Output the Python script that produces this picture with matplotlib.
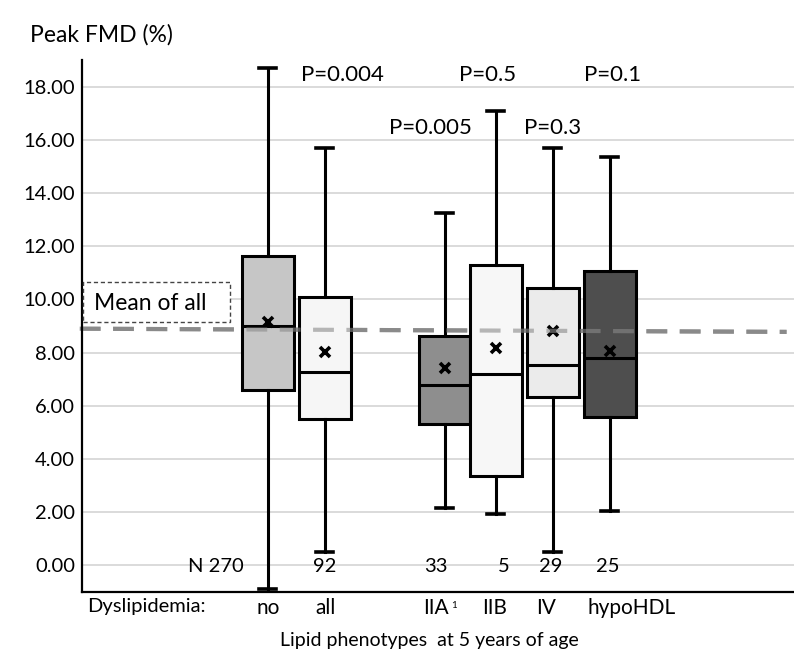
import numpy as np
import matplotlib
matplotlib.use("Agg")
from matplotlib import pyplot as plt
from matplotlib import transforms
from matplotlib.patches import Rectangle

plt.rcParams['font.family'] = ['Lato', 'DejaVu Sans']

# Box statistics (Peak FMD, %)
groups = ["no", "all", "IIA", "IIB", "IV", "hypoHDL"]
whislo = [-0.9, 0.5, 2.15, 1.95, 0.5, 2.05]
q1 = [6.58, 5.5, 5.33, 3.35, 6.35, 5.57]
med = [9.0, 7.29, 6.8, 7.2, 7.52, 7.8]
q3 = [11.65, 10.1, 8.62, 11.3, 10.42, 11.08]
whishi = [18.7, 15.7, 13.25, 17.1, 15.7, 15.35]
means = [9.17, 8.04, 7.44, 8.19, 8.83, 8.05]
n_counts = ["N 270", "92", "33", "5", "29", "25"]
tick_names = ["no", "all", "IIA", "IIB", "IV", "hypoHDL"]
p_values = ["P=0.004", "P=0.005", "P=0.5", "P=0.3", "P=0.1"]
mean_of_all = 8.85

fills = ["#c6c6c6", "#f6f6f6", "#8e8e8e", "#f7f7f7", "#ebebeb", "#4e4e4e"]
positions = [0, 1, 3.1, 4, 5, 6]

fig = plt.figure(figsize=(7.94, 6.62), dpi=100)
ax = fig.add_axes([0.1033, 0.1057, 0.8967, 0.8036])

stats = []
for i in range(len(groups)):
    stats.append(dict(label=groups[i], whislo=whislo[i], q1=q1[i], med=med[i],
                      q3=q3[i], whishi=whishi[i], mean=means[i], fliers=[]))

bp = ax.bxp(stats, positions=positions, widths=0.9, patch_artist=True,
            showmeans=True, capwidths=0.3, manage_ticks=False,
            boxprops=dict(edgecolor='black', lw=2.2),
            medianprops=dict(color='black', lw=2.2),
            whiskerprops=dict(color='black', lw=2.2),
            capprops=dict(color='black', lw=2.6),
            meanprops=dict(marker='x', markeredgecolor='black', markersize=7, mew=2.6))
for patch, c in zip(bp['boxes'], fills):
    patch.set_facecolor(c)
    patch.set_zorder(2)

ax.set_ylim(-1.0, 19.0)
ax.set_xlim(-3.26, 9.23)
ax.set_yticks(np.arange(0, 19, 2))
ax.set_yticklabels([f"{v:.2f}" for v in np.arange(0, 19, 2)], fontsize=14.5)
ax.set_xticks([])
ax.tick_params(axis='y', length=0, pad=5)
ax.grid(axis='y', color='#d4d4d4', lw=1.2)
ax.set_axisbelow(True)
for s in ['top', 'right']:
    ax.spines[s].set_visible(False)
for s in ['left', 'bottom']:
    ax.spines[s].set_linewidth(1.6)

# mean of all dashed line (under and faintly over the boxes)
line_x = [-3.3, 9.1]
line_y = [mean_of_all + 0.05, mean_of_all - 0.07]
ax.plot(line_x, line_y, ls=(0, (5, 3)), color='#8a8a8a', lw=3, zorder=1, clip_on=False)
ax.plot(line_x, line_y, ls=(0, (5, 3)), color='#8a8a8a', lw=3, zorder=2.5, alpha=0.6)

# "Mean of all" dashed box
ax.add_patch(Rectangle((-3.24, 9.14), 2.57, 1.5, fc='white', ec='#444444',
                       ls=(0, (3, 2)), lw=1, zorder=3))
ax.text(-3.05, 9.85, "Mean of all", fontsize=16.5, ha='left', va='center', zorder=4)

# P-values
p_x = [1.3, 2.85, 3.85, 5.0, 6.05]
p_y = [18.45, 16.45, 18.45, 16.45, 18.45]
for x, y, t in zip(p_x, p_y, p_values):
    ax.text(x, y, t, fontsize=16, ha='center', va='center')

# N counts
n_x = [-0.92, 1.0, 2.95, 4.13, 4.97, 5.96]
for x, t in zip(n_x, n_counts):
    ax.text(x, -0.05, t, fontsize=14.5, ha='center', va='center')

# category labels under the axis
trans = transforms.blended_transform_factory(ax.transData, ax.transAxes)
lab_x = [0.0, 1.02, 2.95, 3.98, 4.88, 6.38]
for x, t in zip(lab_x, tick_names):
    ax.text(x, -0.012, t, transform=trans, fontsize=15, ha='center', va='top')
ax.text(3.21, -0.026, "1", transform=trans, fontsize=7, ha='left', va='center')
ax.text(-1.1, -0.012, "Dyslipidemia:", transform=trans, fontsize=14.5, ha='right', va='top')

ax.text(0.5 * (-3.26 + 9.23) - 0.15, -0.075, "Lipid phenotypes  at 5 years of age",
        transform=trans, fontsize=14, ha='center', va='top')

fig.text(0.038, 0.947, "Peak FMD (%)", fontsize=16.5, ha='left', va='center')

fig.savefig("out.png", dpi=100)
